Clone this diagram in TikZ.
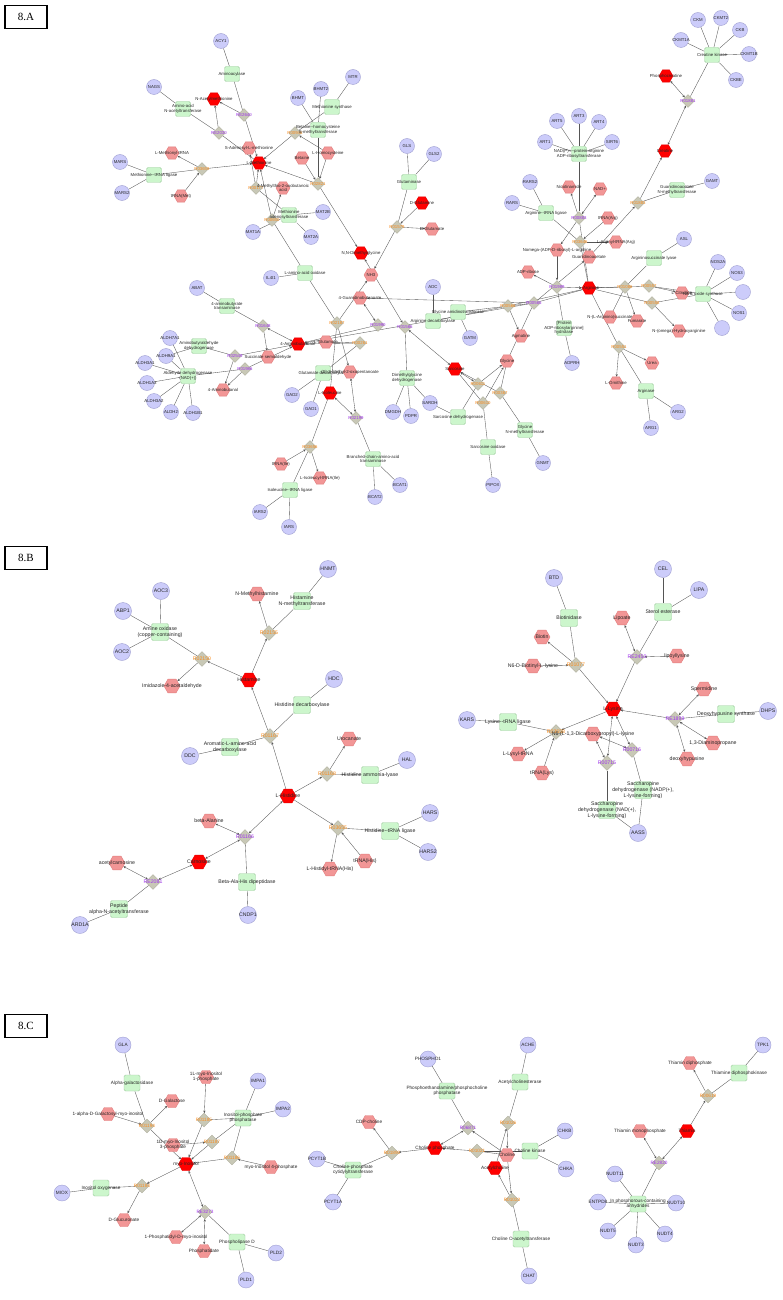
\documentclass[tikz,border=0pt]{standalone}
\usepackage{fontspec}
\setmainfont{Liberation Serif}
\newfontfamily\lblfont{Liberation Sans}
\usetikzlibrary{arrows.meta,shapes.geometric,backgrounds}
\definecolor{genefill}{RGB}{204,204,250}
\definecolor{genedraw}{RGB}{160,160,210}
\definecolor{metfill}{RGB}{242,150,150}
\definecolor{metdraw}{RGB}{225,125,125}
\definecolor{keyfill}{RGB}{255,0,0}
\definecolor{keydraw}{RGB}{230,0,0}
\definecolor{enzfill}{RGB}{204,246,204}
\definecolor{enzdraw}{RGB}{160,205,160}
\definecolor{rxnfill}{RGB}{200,200,182}
\definecolor{rxndraw}{RGB}{175,175,158}
\definecolor{rxnorange}{RGB}{250,140,30}
\definecolor{rxnpurple}{RGB}{160,50,240}
\definecolor{linkgray}{RGB}{85,85,85}
\tikzset{
  lbl/.style={inner sep=0pt, align=center, text=black!85, font=\lblfont\fontsize{4.3}{4.8}\selectfont},
  gene/.style={circle, draw=genedraw, fill=genefill, minimum size=15pt, inner sep=0pt,
    label={[lbl]center:#1}},
  met/.style={regular polygon, regular polygon sides=6, draw=metdraw, fill=metfill,
    minimum size=14pt, inner sep=0pt, label={[lbl]center:#1}},
  keymet/.style={met={#1}, draw=keydraw, fill=keyfill},
  enz/.style={rectangle, rounded corners=1.5pt, draw=enzdraw, fill=enzfill,
    minimum size=15pt, inner sep=0pt, label={[lbl]center:#1}},
  rxn/.style={diamond, draw=rxndraw, fill=rxnfill, minimum size=13pt, inner sep=0pt,
    label={[lbl, text=rxnorange]center:#1}},
  rxnp/.style={diamond, draw=rxndraw, fill=rxnfill, minimum size=13pt, inner sep=0pt,
    label={[lbl, text=rxnpurple]center:#1}},
  link/.style={draw=linkgray, line width=0.35pt},
  arr/.style={link, ->},
  arrs/.style={link, <->},
  secbox/.style={draw=black, line width=1.2pt, minimum width=42pt, minimum height=23pt,
    inner sep=0pt, font=\rmfamily\fontsize{11}{13}\selectfont}
}
\begin{document}
\begin{tikzpicture}[x=1pt, y=-1pt, >={Stealth[length=2.6pt,width=2.2pt]}]
\useasboundingbox (0,0) rectangle (783,1300);

% ---------------- 8.A ----------------
\node[secbox] (secA) at (26,17) {8.A};

% methionine
\node[gene=ACY1] (acy1) at (221,41) {};
\node[enz=Aminoacylase] (eacy) at (232,74) {};
\node[gene=NAGS] (nags) at (154,87) {};
\node[enz={Amino-acid\\N-acetyltransferase}] (enat) at (183,109) {};
\node[keymet=N-Acetylmethionine] (nacmet) at (214,99) {};
\node[rxnp=RE2640] (re2640) at (244,115) {};
\node[rxnp=RE2030] (re2030) at (219,133) {};
\node[gene=MARS] (mars) at (120,162) {};
\node[gene=MARS2] (mars2) at (122,193) {};
\node[enz={Methionine--tRNA ligase}] (emars) at (154,175) {};
\node[met=L-Methionyl-tRNA] (metrna) at (172,153) {};
\node[met=tRNA(Met)] (trnamet) at (181,196) {};
\node[rxn=R03659] (r03659) at (202,169) {};
\node[met=S-Adenosyl-L-methionine] (sam) at (249,148) {};
\node[keymet=L-Methionine] (lmet) at (259,163) {};
\node[rxn=R00177] (r00177) at (256,188) {};
\node[met={4-Methylthio-2-oxobutanoic\\acid}] (mtob) at (283,188) {};
\node[rxn=R00650] (r00650) at (272,220) {};
\node[enz={Methionine\\adenosyltransferase}] (emat) at (289,215) {};
\node[gene=MAT1A] (mat1a) at (253,232) {};
\node[gene=MAT2A] (mat2a) at (311,237) {};
\node[gene=MAT2B] (mat2b) at (323,212) {};
\node[gene=BHMT] (bhmt) at (298,98) {};
\node[gene=BHMT2] (bhmt2) at (321,89) {};
\node[gene=MTR] (mtr) at (353,77) {};
\node[enz={Methionine synthase}] (emtr) at (332,107) {};
\node[rxn=R00946] (r00946) at (295,133) {};
\node[enz={Betaine--homocysteine\\S-methyltransferase}] (ebhmt) at (318,130) {};
\node[met=Betaine] (betaine) at (302,158) {};
\node[met=L-Homocysteine] (hcy) at (328,153) {};
\node[rxn=R02821] (r02821) at (318,184) {};
\node[keymet={N,N-Dimethylglycine}] (dmg) at (361,253) {};

% glutamine
\node[gene=GLS] (gls) at (407,146) {};
\node[gene=GLS2] (gls2) at (434,154) {};
\node[enz=Glutaminase] (egls) at (409,182) {};
\node[keymet=D-Glutamine] (dgln) at (422,203) {};
\node[rxn=R01579] (r01579) at (397,227) {};
\node[met=D-Glutamate] (dglu) at (432,229) {};

% creatine
\node[gene=CKM] (ckm) at (698,20) {};
\node[gene=CKMT2] (ckmt2) at (721,18) {};
\node[gene=CKB] (ckb) at (740,30) {};
\node[gene=CKMT1A] (ckmt1a) at (681,40) {};
\node[gene=CKMT1B] (ckmt1b) at (749,54) {};
\node[gene=CKBE] (ckbe) at (736,80) {};
\node[enz={Creatine kinase}] (eck) at (712,55) {};
\node[keymet=Phosphocreatine] (pcr) at (666,76) {};
\node[rxnp=R01881] (r01881) at (688,101) {};
\node[keymet=Creatine] (creat) at (665,151) {};
\node[gene=GAMT] (gamt) at (712,181) {};
\node[enz={Guanidinoacetate\\N-methyltransferase}] (egamt) at (677,190) {};
\node[rxn=R01883] (r01883) at (638,203) {};

% arginine
\node[gene=ART3] (art3) at (579,116) {};
\node[gene=ART5] (art5) at (557,121) {};
\node[gene=ART4] (art4) at (599,122) {};
\node[gene=ART1] (art1) at (545,142) {};
\node[gene=SIRT6] (sirt6) at (612,142) {};
\node[enz={NAD(P)+--protein-arginine\\ADP-ribosyltransferase}] (eart) at (579,154) {};
\node[met=Nicotinamide] (nam) at (569,187) {};
\node[met=NAD+] (nad) at (600,189) {};
\node[rxnp=R00883] (r00883) at (579,218) {};
\node[met=tRNA(Arg)] (trnaarg) at (608,218) {};
\node[gene=RARS2] (rars2) at (530,182) {};
\node[gene=RARS] (rars) at (512,203) {};
\node[enz={Arginine--tRNA ligase}] (erars) at (546,213) {};
\node[rxn=R03646] (r03646) at (580,242) {};
\node[met=L-Arginyl-tRNA(Arg)] (argtrna) at (616,242) {};
\node[met=Nomega-(ADP-D-ribosyl)-L-arginine] (adprarg) at (557,250) {};
\node[met=Guanidinoacetate] (gaa) at (589,257) {};
\node[met=ADP-ribose] (adpr) at (528,272) {};
\node[rxnp=R01989] (r01989) at (557,287) {};
\node[keymet=L-Arginine] (arg) at (589,288) {};
\node[gene=ASL] (asl) at (684,239) {};
\node[enz={Argininosuccinate lyase}] (easl) at (654,258) {};
\node[rxn=R01086] (r01086) at (625,287) {};
\node[rxn=R00557] (r00557) at (649,286) {};
\node[rxn=R00558] (r00558) at (652,303) {};
\node[met=L-Citrulline] (cit) at (682,293) {};
\node[gene=NOS2A] (nos2a) at (718,262) {};
\node[gene=NOS3] (nos3) at (737,273) {};
\node[gene=] (nosx) at (743,292) {};
\node[gene=NOS1] (nos1) at (739,313) {};
\node[gene=] (nosy) at (722,328) {};
\node[enz={Nitric oxide synthase}] (enos) at (703,294) {};
\node[met=N-(omega)-Hydroxyarginine] (nohar) at (679,331) {};
\node[met=N-(L-Arginino)succinate] (argsuc) at (610,317) {};
\node[met=Fumarate] (fum) at (637,321) {};
\node[enz={{[}Protein\\ADP-ribosylarginine]\\hydrolase}] (eadprh) at (564,328) {};
\node[gene=ADPRH] (adprh) at (572,363) {};
\node[rxn=R00551] (r00551) at (619,347) {};
\node[met=Urea] (urea) at (652,363) {};
\node[met=L-Ornithine] (orn) at (616,383) {};
\node[enz=Arginase] (earg) at (646,391) {};
\node[gene=ARG2] (arg2) at (678,412) {};
\node[gene=ARG1] (arg1) at (651,428) {};
\node[rxn=R00566] (r00566) at (508,306) {};
\node[rxnp=R00565] (r00565) at (534,303) {};
\node[met=Agmatine] (agm) at (521,336) {};

% glycine, sarcosine
\node[gene=ADC] (adc) at (433,287) {};
\node[enz={Glycine amidinotransferase}] (egatm) at (458,312) {};
\node[enz={Arginine decarboxylase}] (eadc) at (433,321) {};
\node[gene=GATM] (gatm) at (470,338) {};
\node[met=NH3] (nh3) at (371,275) {};
\node[enz={L-amino-acid oxidase}] (elao) at (305,273) {};
\node[gene=IL4I1] (il4i1) at (271,278) {};
\node[met=4-Guanidinobutanoate] (gbut) at (360,298) {};
\node[rxn=R02187] (r02187) at (337,323) {};
\node[rxnp=R01990] (r01990) at (378,325) {};
\node[rxnp=R01565] (r01565) at (405,327) {};
\node[enz={Dimethylglycine\\dehydrogenase}] (edmgdh) at (407,378) {};
\node[gene=DMGDH] (dmgdh) at (393,412) {};
\node[gene=PDPR] (pdpr) at (411,416) {};
\node[gene=SARDH] (sardh) at (430,403) {};
\node[enz={Sarcosine dehydrogenase}] (esardh) at (458,417) {};
\node[keymet=Sarcosine] (sarc) at (455,369) {};
\node[rxn=R00611] (r00611) at (478,384) {};
\node[rxn=R00610] (r00610) at (483,403) {};
\node[met=Glycine] (gly) at (507,361) {};
\node[rxn=R00367] (r00367) at (500,393) {};
\node[enz={Glycine\\N-methyltransferase}] (egnmt) at (525,430) {};
\node[gene=GNMT] (gnmt) at (543,463) {};
\node[enz={Sarcosine oxidase}] (epipox) at (488,447) {};
\node[gene=PIPOX] (pipox) at (493,485) {};

% 4-aminobutanoate, isoleucine
\node[met=L-Glutamate] (lglu) at (326,342) {};
\node[rxn=R00261] (r00261) at (360,343) {};
\node[enz={Glutamate decarboxylase}] (egad) at (323,373) {};
\node[gene=GAD2] (gad2) at (292,395) {};
\node[gene=GAD1] (gad1) at (311,409) {};
\node[met=(S)-3-Methyl-2-oxopentanoate] (mop) at (350,372) {};
\node[keymet=4-Aminobutanoate] (gaba) at (298,344) {};
\node[keymet=L-Isoleucine] (ile) at (330,393) {};
\node[rxnp=R02199] (r02199) at (356,418) {};
\node[enz={Branched-chain-amino-acid\\transaminase}] (ebcat) at (373,459) {};
\node[gene=BCAT1] (bcat1) at (400,485) {};
\node[gene=BCAT2] (bcat2) at (375,497) {};
\node[met=tRNA(Ile)] (trnaile) at (281,464) {};
\node[rxn=R03656] (r03656) at (310,447) {};
\node[met=L-Isoleucyl-tRNA(Ile)] (iletrna) at (320,478) {};
\node[enz={Isoleucine--tRNA ligase}] (eiars) at (290,490) {};
\node[gene=IARS2] (iars2) at (260,512) {};
\node[gene=IARS] (iars) at (289,527) {};
\node[gene=ABAT] (abat) at (197,288) {};
\node[enz={4-aminobutyrate\\transaminase}] (eabat) at (227,306) {};
\node[rxnp=R01648] (r01648) at (263,326) {};
\node[met=Succinate semialdehyde] (ssa) at (268,357) {};
\node[rxnp=R02549] (r02549) at (235,356) {};
\node[rxnp=R01986] (r01986) at (245,369) {};
\node[met=4-Aminobutanal] (abal) at (223,390) {};
\node[gene=ALDH7A1] (aldh7a1) at (170,338) {};
\node[gene=ALDH9A1] (aldh9a1) at (166,356) {};
\node[gene=ALDH3A1] (aldh3a1) at (145,363) {};
\node[gene=ALDH1A3] (aldh1a3) at (147,383) {};
\node[gene=ALDH3A2] (aldh3a2) at (154,401) {};
\node[gene=ALDH2] (aldh2) at (171,412) {};
\node[gene=ALDH1B1] (aldh1b1) at (193,413) {};
\node[enz={Aminobutyraldehyde\\dehydrogenase}] (eabald) at (199,346) {};
\node[enz={Aldehyde dehydrogenase\\(NAD(+))}] (ealdh) at (188,376) {};

% ---------------- 8.B ----------------
\node[secbox] (secB) at (26,558) {8.B};
\begin{scope}[gene/.append style={minimum size=17pt}, met/.append style={minimum size=16pt},
  enz/.append style={minimum size=17pt}, rxn/.append style={minimum size=15pt},
  rxnp/.append style={minimum size=15pt}, lbl/.append style={font=\lblfont\fontsize{5.2}{5.9}\selectfont}]
\node[gene=HNMT] (hnmt) at (328,569) {};
\node[enz={Histamine\\N-methyltransferase}] (ehnmt) at (302,601) {};
\node[met=N-Methylhistamine] (nmh) at (257,594) {};
\node[rxn=R02155] (r02155) at (269,633) {};
\node[gene=AOC3] (aoc3) at (161,591) {};
\node[gene=ABP1] (abp1) at (123,611) {};
\node[gene=AOC2] (aoc2) at (122,652) {};
\node[enz={Amine oxidase\\(copper-containing)}] (eaoc) at (160,632) {};
\node[rxn=R02150] (r02150) at (202,659) {};
\node[met=Imidazole-4-acetaldehyde] (imaa) at (172,686) {};
\node[keymet=Histamine] (hista) at (249,680) {};
\node[gene=HDC] (hdc) at (334,679) {};
\node[enz={Histidine decarboxylase}] (ehdc) at (302,705) {};
\node[rxn=R01167] (r01167) at (270,736) {};
\node[enz={Aromatic-L-amino-acid\\decarboxylase}] (eddc) at (230,747) {};
\node[gene=DDC] (ddc) at (190,756) {};
\node[met=Urocanate] (uro) at (349,739) {};
\node[rxn=R01168] (r01168) at (327,774) {};
\node[enz={Histidine ammonia-lyase}] (ehal) at (370,775) {};
\node[gene=HAL] (hal) at (407,760) {};
\node[keymet=L-Histidine] (his) at (288,796) {};
\node[met=beta-Alanine] (bala) at (209,821) {};
\node[rxnp=R01166] (r01166) at (245,837) {};
\node[keymet=Carnosine] (carn) at (199,862) {};
\node[met=acetylcarnosine] (accarn) at (117,863) {};
\node[rxnp=RE2081] (re2081) at (153,882) {};
\node[enz={Beta-Ala-His dipeptidase}] (ecndp) at (247,882) {};
\node[gene=CNDP1] (cndp1) at (248,915) {};
\node[enz={Peptide\\alpha-N-acetyltransferase}] (enaa) at (119,909) {};
\node[gene=ARD1A] (ard1a) at (80,925) {};
\node[rxn=R03655] (r03655) at (338,828) {};
\node[enz={Histidine--tRNA ligase}] (ehars) at (390,831) {};
\node[gene=HARS] (hars) at (430,813) {};
\node[gene=HARS2] (hars2) at (428,852) {};
\node[met=tRNA(His)] (trnahis) at (365,861) {};
\node[met=L-Histidyl-tRNA(His)] (histrna) at (330,869) {};

% lysine
\node[gene=BTD] (btd) at (554,578) {};
\node[enz=Biotinidase] (ebtd) at (569,618) {};
\node[met=Biotin] (biotin) at (542,637) {};
\node[met=N6-D-Biotinyl-L-lysine] (bioly) at (533,666) {};
\node[rxn=R01077] (r01077) at (576,665) {};
\node[gene=CEL] (cel) at (663,569) {};
\node[gene=LIPA] (lipa) at (699,590) {};
\node[enz={Sterol esterase}] (ecel) at (663,612) {};
\node[met=Lipoate] (lipoate) at (622,618) {};
\node[rxnp=RE2450] (re2450) at (637,657) {};
\node[met=lipoyllysine] (lipoly) at (677,656) {};
\node[met=Spermidine] (spd) at (704,689) {};
\node[rxnp=RE1899] (re1899) at (675,719) {};
\node[enz={Deoxyhypusine synthase}] (edhps) at (726,714) {};
\node[gene=DHPS] (dhps) at (768,711) {};
\node[met={1,3-Diaminopropane}] (dap) at (713,743) {};
\node[met=deoxyhypusine] (dhyp) at (687,759) {};
\node[gene=KARS] (kars) at (467,720) {};
\node[enz={Lysine--tRNA ligase}] (ekars) at (508,722) {};
\node[rxn=R03658] (r03658) at (556,732) {};
\node[met=L-Lysyl-tRNA] (lystrna) at (518,754) {};
\node[met=tRNA(Lys)] (trnalys) at (542,773) {};
\node[met={N6-(L-1,3-Dicarboxypropyl)-L-lysine}] (sacch) at (593,734) {};
\node[keymet=L-Lysine] (lys) at (613,709) {};
\node[rxnp=R00716] (r00716) at (632,750) {};
\node[rxnp=R00715] (r00715) at (607,763) {};
\node[enz={Saccharopine\\dehydrogenase (NADP(+),\\L-lysine-forming)}] (esdh1) at (643,790) {};
\node[enz={Saccharopine\\dehydrogenase (NAD(+),\\L-lysine-forming)}] (esdh2) at (607,810) {};
\node[gene=AASS] (aass) at (638,833) {};
\end{scope}

% ---------------- 8.C ----------------
\node[secbox] (secC) at (26,1026) {8.C};
\begin{scope}[gene/.append style={minimum size=16pt}, met/.append style={minimum size=15pt},
  enz/.append style={minimum size=16pt}, rxn/.append style={minimum size=14pt},
  rxnp/.append style={minimum size=14pt}, lbl/.append style={font=\lblfont\fontsize{4.7}{5.3}\selectfont}]
% inositol
\node[gene=GLA] (gla) at (123,1045) {};
\node[enz=Alpha-galactosidase] (egla) at (132,1083) {};
\node[met=1-alpha-D-Galactosyl-myo-inositol] (galino) at (108,1114) {};
\node[met=D-Galactose] (dgal) at (172,1101) {};
\node[rxn=R01194] (r01194) at (147,1126) {};
\node[met={1L-myo-Inositol\\1-phosphate}] (ip1) at (206,1077) {};
\node[rxn=R01185] (r01185) at (204,1120) {};
\node[gene=IMPA1] (impa1) at (258,1081) {};
\node[gene=IMPA2] (impa2) at (283,1109) {};
\node[enz={Inositol-phosphate\\phosphatase}] (eimpa) at (243,1118) {};
\node[met={1D-myo-Inositol\\3-phosphate}] (ip3) at (173,1145) {};
\node[rxn=R01187] (r01187) at (212,1142) {};
\node[keymet=myo-Inositol] (inos) at (186,1164) {};
\node[rxn=R01186] (r01186) at (232,1158) {};
\node[met={myo-Inositol 4-phosphate}] (ip4) at (271,1167) {};
\node[rxn=R01184] (r01184) at (142,1186) {};
\node[enz={Inositol oxygenase}] (emiox) at (101,1188) {};
\node[gene=MIOX] (miox) at (62,1193) {};
\node[met=D-Glucuronate] (glcur) at (124,1220) {};
\node[rxnp=RE3273] (re3273) at (205,1212) {};
\node[met=1-Phosphatidyl-D-myo-inositol] (ptdins) at (176,1237) {};
\node[met=Phosphatidate] (pa) at (204,1251) {};
\node[enz={Phospholipase D}] (epld) at (237,1242) {};
\node[gene=PLD2] (pld2) at (276,1253) {};
\node[gene=PLD1] (pld1) at (246,1280) {};

% choline
\node[gene=PHOSPHO1] (phospho1) at (428,1059) {};
\node[enz={Phosphoethanolamine/phosphocholine\\phosphatase}] (ephos) at (447,1091) {};
\node[rxnp=R06871] (r06871) at (468,1128) {};
\node[gene=ACHE] (ache) at (528,1045) {};
\node[enz=Acetylcholinesterase] (eache) at (520,1082) {};
\node[rxn=R01026] (r01026) at (508,1123) {};
\node[met=CDP-choline] (cdpcho) at (369,1122) {};
\node[rxn=R01890] (r01890) at (392,1153) {};
\node[gene=PCYT1B] (pcyt1b) at (317,1159) {};
\node[enz={Choline-phosphate\\cytidylyltransferase}] (epcyt) at (353,1170) {};
\node[gene=PCYT1A] (pcyt1a) at (333,1202) {};
\node[keymet={Choline phosphate}] (chop) at (435,1148) {};
\node[rxn=R01021] (r01021) at (477,1151) {};
\node[enz={Choline kinase}] (echk) at (530,1151) {};
\node[met=Choline] (cho) at (507,1155) {};
\node[gene=CHKB] (chkb) at (565,1131) {};
\node[gene=CHKA] (chka) at (566,1169) {};
\node[keymet=Acetylcholine] (ach) at (495,1168) {};
\node[rxn=R01023] (r01023) at (512,1200) {};
\node[enz={Choline O-acetyltransferase}] (echat) at (521,1239) {};
\node[gene=CHAT] (chat) at (529,1276) {};

% thiamin
\node[gene=TPK1] (tpk1) at (763,1045) {};
\node[enz={Thiamine diphosphokinase}] (etpk) at (739,1073) {};
\node[met={Thiamin diphosphate}] (tdp) at (690,1063) {};
\node[rxn=R00619] (r00619) at (708,1096) {};
\node[keymet=Thiamin] (thia) at (687,1131) {};
\node[met={Thiamin monophosphate}] (tmp) at (640,1131) {};
\node[rxnp=RE2820] (re2820) at (659,1163) {};
\node[enz={In phosphorous-containing\\anhydrides}] (eentpd) at (638,1204) {};
\node[gene=NUDT11] (nudt11) at (615,1174) {};
\node[gene=ENTPD8] (entpd) at (598,1202) {};
\node[gene=NUDT10] (nudt10) at (676,1203) {};
\node[gene=NUDT5] (nudt5) at (608,1231) {};
\node[gene=NUDT3] (nudt3) at (636,1245) {};
\node[gene=NUDT4] (nudt4) at (665,1234) {};
\end{scope}

% ---------------- connectors ----------------
\begin{scope}[on background layer]
\fill[white] (0,0) rectangle (783,1300);
% genes to enzymes
\foreach \g/\e in {acy1/eacy, nags/enat, mars/emars, mars2/emars, mat1a/emat, mat2a/emat,
  mat2b/emat, bhmt/ebhmt, bhmt2/ebhmt, mtr/emtr, gls/egls, gls2/egls, gamt/egamt,
  rars/erars, rars2/erars, asl/easl, adprh/eadprh, arg1/earg, arg2/earg, il4i1/elao,
  adc/eadc, gatm/egatm, gad1/egad, gad2/egad, bcat1/ebcat, bcat2/ebcat, dmgdh/edmgdh,
  pdpr/edmgdh, sardh/edmgdh, sardh/esardh, gnmt/egnmt, pipox/epipox, abat/eabat,
  aldh9a1/eabald, iars/eiars, iars2/eiars}
  \draw[link] (\g) -- (\e);
\foreach \g in {ckm,ckmt2,ckb,ckmt1a,ckmt1b,ckbe} \draw[link] (\g) -- (eck);
\foreach \g in {art1,art3,art4,art5,sirt6} \draw[link] (\g) -- (eart);
\foreach \g in {nos2a,nos3,nosx,nos1,nosy} \draw[link] (\g) -- (enos);
\foreach \g in {aldh7a1,aldh9a1,aldh3a1,aldh1a3,aldh3a2,aldh2,aldh1b1} \draw[link] (\g) -- (ealdh);
% enzymes to reactions
\foreach \e/\r in {eacy/re2640, enat/re2030, emars/r03659, emat/r00177, ebhmt/r02821,
  emtr/r00946, egls/r01579, eck/r01881, egamt/r01883, eart/r00883, erars/r03646,
  easl/r01086, enos/r00557, enos/r00558, eadprh/r01989, earg/r00551, elao/r00650,
  elao/r02187, eadc/r00566, egatm/r00565, egad/r00261, ebcat/r02199, edmgdh/r01565,
  esardh/r00611, egnmt/r00367, epipox/r00610, eabat/r01648, eabald/r02549,
  ealdh/r01986, eiars/r03656}
  \draw[link] (\e) -- (\r);
% methionine
\draw[arr] (re2640) -- (nacmet);
\draw[arr] (re2640) -- (lmet);
\draw[arr] (re2030) -- (nacmet);
\draw[link] (re2030) -- (lmet);
\draw[arr] (r03659) -- (metrna);
\draw[arr] (trnamet) -- (r03659);
\draw[arr] (r03659) -- (lmet);
\draw[arr] (r00177) -- (lmet);
\draw[arr] (r00177) -- (sam);
\draw[arr] (r00650) -- (lmet);
\draw[arr] (r00650) -- (mtob);
\draw[arr] (r00946) -- (lmet);
\draw[arr] (hcy) -- (r00946);
\draw[arr] (r02821) -- (lmet);
\draw[arr] (betaine) -- (r02821);
\draw[arr] (hcy) -- (r02821);
\draw[arr] (r02821) -- (dmg);
% glutamine, dimethylglycine
\draw[arr] (dgln) -- (r01579);
\draw[arr] (r01579) -- (dglu);
\draw[arr] (r01579) -- (nh3);
\draw[arrs] (dmg) -- (r01565);
\draw[arrs] (r01565) -- (sarc);
\draw[arr] (r02187) -- (nh3);
\draw[link] (ile) -- (r02187);
\draw[arr] (r02187) -- (mop);
\draw[arrs] (gbut) -- (r01990);
\draw[arr] (r01990) -- (gaba);
\draw[link] (lglu) -- (r00261);
\draw[arr] (r00261) -- (gaba);
% isoleucine
\draw[arrs] (ile) -- (r02199);
\draw[arrs] (r02199) -- (mop);
\draw[link] (ile) -- (r03656);
\draw[arr] (trnaile) -- (r03656);
\draw[arr] (r03656) -- (iletrna);
% 4-aminobutanoate
\draw[arrs] (gaba) -- (r01648);
\draw[arr] (r01648) -- (ssa);
\draw[arr] (r02549) -- (gaba);
\draw[arr] (r01986) -- (gaba);
\draw[arr] (r02549) -- (abal);
\draw[arr] (r01986) -- (abal);
% sarcosine, glycine
\draw[arrs] (sarc) -- (r00611);
\draw[arr] (r00611) -- (gly);
\draw[link] (sarc) -- (r00610);
\draw[arr] (r00610) -- (gly);
\draw[link] (gly) -- (r00367);
\draw[arr] (r00367) -- (sarc);
% arginine
\draw[link] (gaba) -- (r00565);
\draw[arr] (r00565) -- (gbut);
\draw[link] (gly) -- (r00565);
\draw[link] (arg) -- (r00565);
\draw[arr] (r00565) -- (gaa);
\draw[link] (arg) -- (r00566);
\draw[arr] (r00566) -- (agm);
\draw[arr] (r01989) -- (arg);
\draw[arr] (adprarg) -- (r01989);
\draw[arr] (r01989) -- (adpr);
\draw[link] (arg) -- (r00883);
\draw[arr] (r00883) -- (adprarg);
\draw[arr] (r00883) -- (nam);
\draw[arrs] (r00883) -- (nad);
\draw[link] (arg) -- (r03646);
\draw[arr] (trnaarg) -- (r03646);
\draw[arr] (r03646) -- (argtrna);
\draw[arr] (gaa) -- (r01883);
\draw[arr] (r01883) -- (creat);
\draw[arrs] (creat) -- (r01881);
\draw[arrs] (r01881) -- (pcr);
\draw[link] (argsuc) -- (r01086);
\draw[arr] (r01086) -- (fum);
\draw[arr] (r01086) -- (arg);
\draw[link] (arg) -- (r00557);
\draw[arr] (r00557) -- (cit);
\draw[link] (arg) -- (r00558);
\draw[arr] (r00558) -- (nohar);
\draw[link] (arg) -- (r00551);
\draw[arr] (r00551) -- (urea);
\draw[arr] (r00551) -- (orn);

% histidine
\foreach \g/\e in {hnmt/ehnmt, aoc3/eaoc, abp1/eaoc, aoc2/eaoc, hdc/ehdc, ddc/eddc,
  hal/ehal, hars/ehars, hars2/ehars, cndp1/ecndp, ard1a/enaa, ehnmt/r02155,
  eaoc/r02150, ehdc/r01167, eddc/r01167, ehal/r01168, ehars/r03655, ecndp/r01166,
  enaa/re2081}
  \draw[link] (\g) -- (\e);
\draw[arr] (hista) -- (r02155);
\draw[arr] (r02155) -- (nmh);
\draw[arr] (hista) -- (r02150);
\draw[arr] (r02150) -- (imaa);
\draw[arr] (his) -- (r01167);
\draw[arr] (r01167) -- (hista);
\draw[arr] (his) -- (r01168);
\draw[arr] (r01168) -- (uro);
\draw[arr] (his) -- (r03655);
\draw[arr] (trnahis) -- (r03655);
\draw[arr] (r03655) -- (histrna);
\draw[arrs] (r01166) -- (his);
\draw[arrs] (r01166) -- (bala);
\draw[arrs] (r01166) -- (carn);
\draw[arrs] (re2081) -- (carn);
\draw[arrs] (re2081) -- (accarn);
% lysine
\foreach \g/\e in {btd/ebtd, cel/ecel, lipa/ecel, dhps/edhps, kars/ekars, aass/esdh1,
  aass/esdh2, ebtd/r01077, ecel/re2450, edhps/re1899, ekars/r03658, esdh1/r00716,
  esdh2/r00715}
  \draw[link] (\g) -- (\e);
\draw[arr] (bioly) -- (r01077);
\draw[arr] (r01077) -- (biotin);
\draw[arr] (r01077) -- (lys);
\draw[arrs] (re2450) -- (lipoate);
\draw[arr] (lipoly) -- (re2450);
\draw[arr] (re2450) -- (lys);
\draw[arrs] (re1899) -- (spd);
\draw[arr] (re1899) -- (lys);
\draw[arrs] (re1899) -- (dap);
\draw[arrs] (re1899) -- (dhyp);
\draw[arr] (lys) -- (r03658);
\draw[arr] (trnalys) -- (r03658);
\draw[arr] (r03658) -- (lystrna);
\draw[arrs] (lys) -- (r00715);
\draw[arrs] (lys) -- (r00716);
\draw[arrs] (sacch) -- (r00715);
\draw[arrs] (sacch) -- (r00716);

% inositol
\foreach \g/\e in {gla/egla, impa1/eimpa, impa2/eimpa, miox/emiox, pld1/epld, pld2/epld,
  egla/r01194, eimpa/r01185, eimpa/r01187, eimpa/r01186, emiox/r01184, epld/re3273}
  \draw[link] (\g) -- (\e);
\draw[arr] (galino) -- (r01194);
\draw[arr] (r01194) -- (dgal);
\draw[arr] (r01194) -- (inos);
\draw[arr] (ip1) -- (r01185);
\draw[arr] (r01185) -- (inos);
\draw[arr] (ip3) -- (r01187);
\draw[arr] (r01187) -- (inos);
\draw[arr] (ip4) -- (r01186);
\draw[arr] (r01186) -- (inos);
\draw[arr] (inos) -- (r01184);
\draw[arr] (r01184) -- (glcur);
\draw[arrs] (inos) -- (re3273);
\draw[arrs] (re3273) -- (ptdins);
\draw[arrs] (re3273) -- (pa);
% choline
\foreach \g/\e in {phospho1/ephos, ache/eache, pcyt1a/epcyt, pcyt1b/epcyt, chka/echk,
  chkb/echk, chat/echat, ephos/r06871, eache/r01026, epcyt/r01890, echk/r01021,
  echat/r01023}
  \draw[link] (\g) -- (\e);
\draw[arrs] (chop) -- (r06871);
\draw[arr] (cho) -- (r06871);
\draw[arr] (ach) -- (r01026);
\draw[arr] (r01026) -- (cho);
\draw[arr] (chop) -- (r01890);
\draw[arr] (r01890) -- (cdpcho);
\draw[link] (cho) -- (r01021);
\draw[arr] (r01021) -- (chop);
\draw[arr] (cho) -- (r01023);
\draw[arr] (r01023) -- (ach);
% thiamin
\foreach \g in {nudt11,entpd,nudt10,nudt5,nudt3,nudt4} \draw[link] (\g) -- (eentpd);
\draw[link] (tpk1) -- (etpk);
\draw[link] (etpk) -- (r00619);
\draw[link] (eentpd) -- (re2820);
\draw[arr] (thia) -- (r00619);
\draw[arr] (r00619) -- (tdp);
\draw[arrs] (re2820) -- (tmp);
\draw[arrs] (re2820) -- (thia);
\end{scope}
\end{tikzpicture}
\end{document}
